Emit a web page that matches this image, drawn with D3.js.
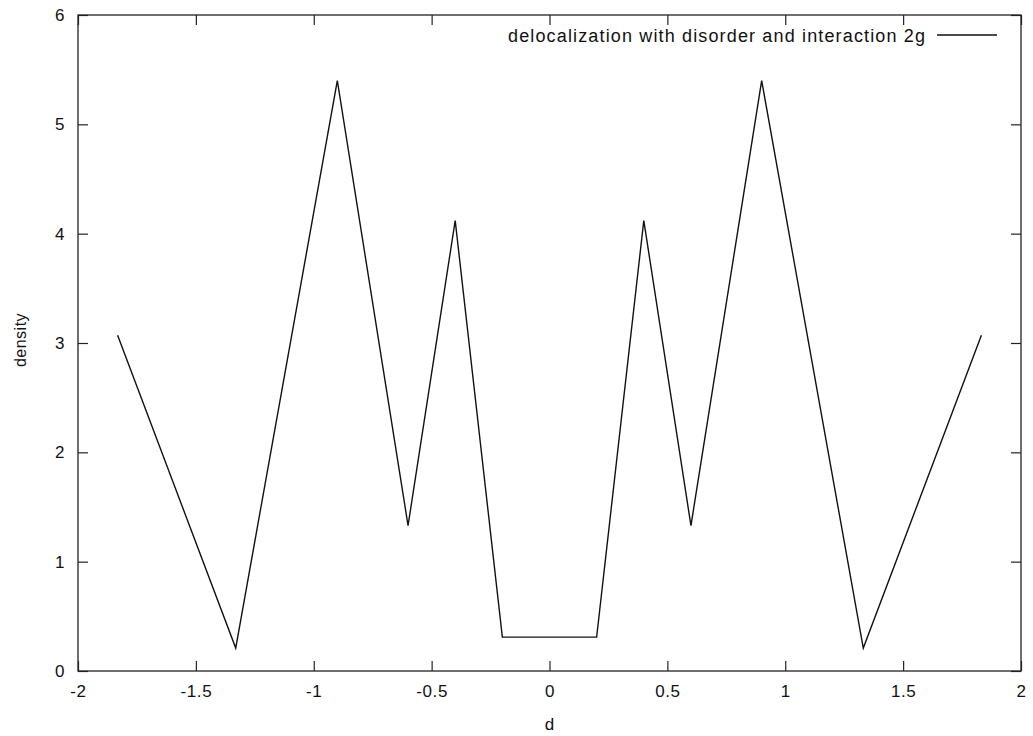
<!DOCTYPE html>
<html><head><meta charset="utf-8">
<script src="https://cdn.jsdelivr.net/npm/d3@7"></script>
<style>body{margin:0;background:#fff}text{font-family:"Liberation Sans",Arial,sans-serif;fill:#111}</style>
</head><body><svg id="c" width="1033" height="736"></svg>
<script>
const dValues = [-1.832, -1.331, -0.900, -0.600, -0.400, -0.200, 0.200, 0.400, 0.600, 0.900, 1.331, 1.832];
const densityValues = [3.07, 0.21, 5.40, 1.33, 4.12, 0.31, 0.31, 4.12, 1.33, 5.40, 0.21, 3.07];
const xTicks = [-2, -1.5, -1, -0.5, 0, 0.5, 1, 1.5, 2];
const yTicks = [0, 1, 2, 3, 4, 5, 6];
const seriesName = "delocalization with disorder and interaction 2g";

const svg = d3.select("#c");
const L = 78, R = 1021, T = 15, B = 671;
const x = d3.scaleLinear().domain([-2, 2]).range([L, R]);
const y = d3.scaleLinear().domain([0, 6]).range([B, T]);
const fmt = d => String(d);

const gx = svg.append("g").attr("transform", `translate(0,${B})`)
  .call(d3.axisBottom(x).tickValues(xTicks).tickFormat(fmt).tickSizeInner(-10).tickSizeOuter(0).tickPadding(14));
const gxt = svg.append("g").attr("transform", `translate(0,${T})`)
  .call(d3.axisTop(x).tickValues(xTicks).tickFormat("").tickSizeInner(-10).tickSizeOuter(0));
const gy = svg.append("g").attr("transform", `translate(${L},0)`)
  .call(d3.axisLeft(y).tickValues(yTicks).tickFormat(fmt).tickSizeInner(-10).tickSizeOuter(0).tickPadding(13));
const gyr = svg.append("g").attr("transform", `translate(${R},0)`)
  .call(d3.axisRight(y).tickValues(yTicks).tickFormat("").tickSizeInner(-10).tickSizeOuter(0));
[gx, gxt, gy, gyr].forEach(g => {
  g.select(".domain").remove();
  g.selectAll(".tick line").attr("stroke", "#222").attr("stroke-width", 1.2);
  g.selectAll("text").attr("font-size", 17).attr("letter-spacing", "0.6px").attr("fill", "#111");
});

svg.append("rect").attr("x", L).attr("y", T).attr("width", R - L).attr("height", B - T)
  .attr("fill", "none").attr("stroke", "#222").attr("stroke-width", 1.3);

const pts = dValues.map((d, i) => [d, densityValues[i]]);
svg.append("path").datum(pts)
  .attr("d", d3.line().x(p => x(p[0])).y(p => y(p[1])))
  .attr("fill", "none").attr("stroke", "#111").attr("stroke-width", 1.4);

svg.append("text").attr("x", (L + R) / 2).attr("y", 730).attr("text-anchor", "middle")
  .attr("font-size", 17).text("d");
svg.append("text").attr("transform", `translate(26,340) rotate(-90)`)
  .attr("text-anchor", "middle").attr("font-size", 16).attr("letter-spacing", "0.5px").text("density");

svg.append("text").attr("x", 508).attr("y", 42)
  .attr("font-size", 18).attr("textLength", 417).attr("lengthAdjust", "spacing").text(seriesName);
svg.append("line").attr("x1", 937).attr("x2", 997).attr("y1", 35).attr("y2", 35)
  .attr("stroke", "#111").attr("stroke-width", 1.4);
</script></body></html>
